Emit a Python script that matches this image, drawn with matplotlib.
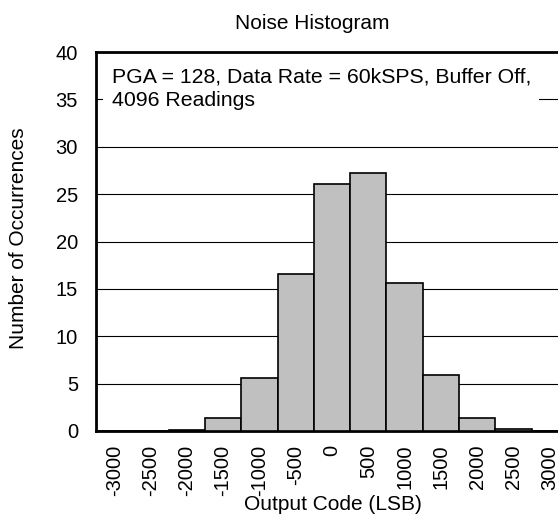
import matplotlib
matplotlib.use('Agg')
import matplotlib.pyplot as plt

plt.rcParams['font.family'] = ['Liberation Sans', 'DejaVu Sans']

# histogram data
codes = ['-3000', '-2500', '-2000', '-1500', '-1000', '-500', '0',
         '500', '1000', '1500', '2000', '2500', '3000']
counts = [0, 0.05, 0.15, 1.35, 5.6, 16.6, 26.1, 27.2, 15.6, 5.9, 1.35, 0.25, 0]
y_ticks = [0, 5, 10, 15, 20, 25, 30, 35, 40]

W, H = 558, 516
fig = plt.figure(figsize=(W / 100, H / 100), dpi=100)

# plot area runs a bit past the right edge of the picture (cropped original)
left, right, top, bottom = 96, 568, 52, 431
ax = fig.add_axes([left / W, (H - bottom) / H, (right - left) / W, (bottom - top) / H])

xs = list(range(len(codes)))
ax.bar(xs, counts, width=1.0, color='#c0c0c0', edgecolor='black', linewidth=1.2, zorder=3)

ax.set_xlim(-0.5, len(codes) - 0.5)
ax.set_ylim(0, 40)
ax.set_yticks(y_ticks)
ax.set_xticks(xs)
ax.set_xticklabels(codes, rotation=90)
ax.tick_params(axis='both', length=0, labelsize=14.5)
ax.tick_params(axis='y', pad=13)
ax.tick_params(axis='x', pad=10)

ax.yaxis.grid(True, color='black', linewidth=0.8, zorder=0)
ax.set_axisbelow(True)
for side in ['left', 'bottom', 'top']:
    ax.spines[side].set_linewidth(2)
ax.spines['right'].set_visible(False)

ax.text(-0.07, 38.4, 'PGA = 128, Data Rate = 60kSPS, Buffer Off,\n4096 Readings',
        fontsize=15.3, va='top', ha='left', linespacing=1.3, zorder=5,
        bbox=dict(facecolor='white', edgecolor='none', pad=6))

fig.text(312 / W, (H - 29) / H, 'Noise Histogram', fontsize=15, ha='center', va='baseline')
fig.text(333 / W, (H - 510) / H, 'Output Code (LSB)', fontsize=15, ha='center', va='baseline')
fig.text(19 / W, (H - 238) / H, 'Number of Occurrences', fontsize=15, ha='center',
         va='center', rotation=90)

plt.savefig('out.png', dpi=100)
